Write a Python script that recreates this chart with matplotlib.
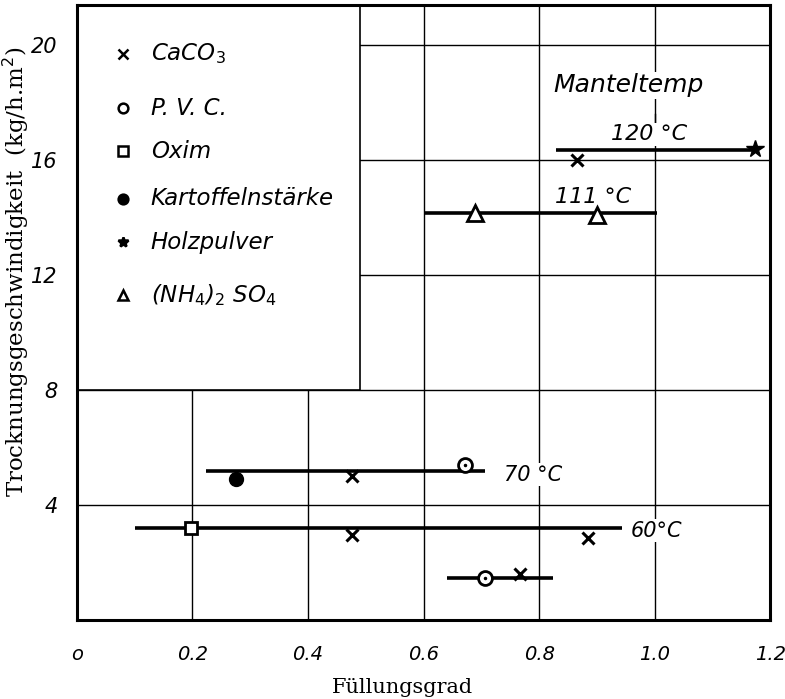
import matplotlib.pyplot as plt
from matplotlib.patches import Rectangle

# Mantel temperature series (Füllungsgrad range of the bar + measured points)
lines_120 = [0.83, 1.175]
y_120 = 16.35
lines_111 = [0.60, 1.005]
y_111 = 14.15
lines_70 = [0.223, 0.706]
y_70 = 5.2
lines_60 = [0.10, 0.943]
y_60 = 3.2
lines_low = [0.64, 0.825]
y_low = 1.45

caco3_x = [0.866, 0.477, 0.477, 0.885, 0.767]
caco3_y = [16.0, 5.0, 2.95, 2.85, 1.6]
pvc_x = [0.671, 0.706]
pvc_y = [5.4, 1.45]
oxim_x = [0.197]
oxim_y = [3.2]
kart_x = [0.275]
kart_y = [4.9]
holz_x = [1.174]
holz_y = [16.4]
nh4_x = [0.69, 0.90]
nh4_y = [14.15, 14.1]

xticks = [0, 0.2, 0.4, 0.6, 0.8, 1.0, 1.2]
xlabels = ["o", "0.2", "0.4", "0.6", "0.8", "1.0", "1.2"]
yticks = [4, 8, 12, 16, 20]

hand = dict(family="DejaVu Sans", style="italic")

fig = plt.figure(figsize=(7.85, 6.99), dpi=100)
ax = fig.add_axes([0.098, 0.113, 0.883, 0.880])
ax.set_xlim(0, 1.2)
ax.set_ylim(0, 21.4)

for v in xticks[1:-1]:
    ax.axvline(v, color="black", lw=1.0, zorder=1)
for v in yticks:
    ax.axhline(v, color="black", lw=1.0, zorder=1)

# legend box covering the grid
ax.add_patch(Rectangle((0, 8), 0.49, 13.4, facecolor="white", edgecolor="black", lw=1.2, zorder=2))

# temperature bars
for xs, yv in [(lines_120, y_120), (lines_111, y_111), (lines_70, y_70), (lines_60, y_60), (lines_low, y_low)]:
    ax.plot(xs, [yv, yv], color="black", lw=2.6, zorder=3, solid_capstyle="butt")

ax.plot(caco3_x, caco3_y, "x", color="black", ms=9, mew=2.2, zorder=4, linestyle="none")
ax.plot(pvc_x, pvc_y, "o", mfc="white", mec="black", ms=10, mew=2, zorder=4, linestyle="none")
ax.plot(pvc_x, pvc_y, ".", color="black", ms=3, zorder=5, linestyle="none")
ax.plot(oxim_x, oxim_y, "s", mfc="white", mec="black", ms=9, mew=2, zorder=4, linestyle="none")
ax.plot(kart_x, kart_y, "o", color="black", ms=10, zorder=4, linestyle="none")
ax.plot(holz_x, holz_y, "*", color="black", ms=13, zorder=4, linestyle="none")
ax.plot(nh4_x, nh4_y, "^", mfc="white", mec="black", ms=11, mew=2, zorder=4, linestyle="none")

# legend entries
leg_y = [19.7, 17.8, 16.3, 14.65, 13.15, 11.3]
leg_m = [("x", "black"), ("o", "white"), ("s", "white"), ("o", "black"), ("*", "black"), ("^", "white")]
leg_t = [r"CaCO$_3$", "P. V. C.", "Oxim", "Kartoffelnstärke", "Holzpulver", r"(NH$_4$)$_2$ SO$_4$"]
for yv, (m, fc), t in zip(leg_y, leg_m, leg_t):
    ax.plot([0.079], [yv], m, mfc=fc, mec="black", color="black", ms=7, mew=1.8, zorder=4)
    ax.text(0.128, yv, t, fontsize=16.5, va="center", ha="left", zorder=4, **hand)

box = dict(facecolor="white", edgecolor="none", pad=1)
ax.text(0.955, 18.6, "Manteltemp", fontsize=18, ha="center", va="center", bbox=box, zorder=3, **hand)
ax.plot([1.0, 1.0], [17.6, 17.0], color="black", lw=1.0, zorder=3)
ax.text(0.99, 16.9, "120 °C", fontsize=16, ha="center", va="center", bbox=box, zorder=3, **hand)
ax.text(0.893, 14.7, "111 °C", fontsize=16, ha="center", va="center", bbox=box, zorder=3, **hand)
ax.text(0.79, 5.05, "70 °C", fontsize=15, ha="center", va="center", bbox=box, zorder=3, **hand)
ax.text(1.003, 3.1, "60°C", fontsize=15, ha="center", va="center", bbox=box, zorder=3, **hand)

ax.set_xticks(xticks)
ax.set_xticklabels(xlabels, fontsize=14, **hand)
ax.set_yticks(yticks)
ax.set_yticklabels([str(v) for v in yticks], fontsize=15, **hand)
ax.tick_params(axis="x", length=0, pad=18)
ax.tick_params(axis="y", length=0, pad=14)
for s in ax.spines.values():
    s.set_linewidth(2.2)
    s.set_zorder(6)

ax.set_xlabel("Füllungsgrad", fontsize=15, family="DejaVu Serif")
ax.xaxis.set_label_coords(0.469, -0.094)
ax.set_ylabel("Trocknungsgeschwindigkeit  (kg/h.m$^2$)", fontsize=16.5, family="DejaVu Serif")
ax.yaxis.set_label_coords(-0.066, 0.566)

fig.savefig("out.png", dpi=100)
